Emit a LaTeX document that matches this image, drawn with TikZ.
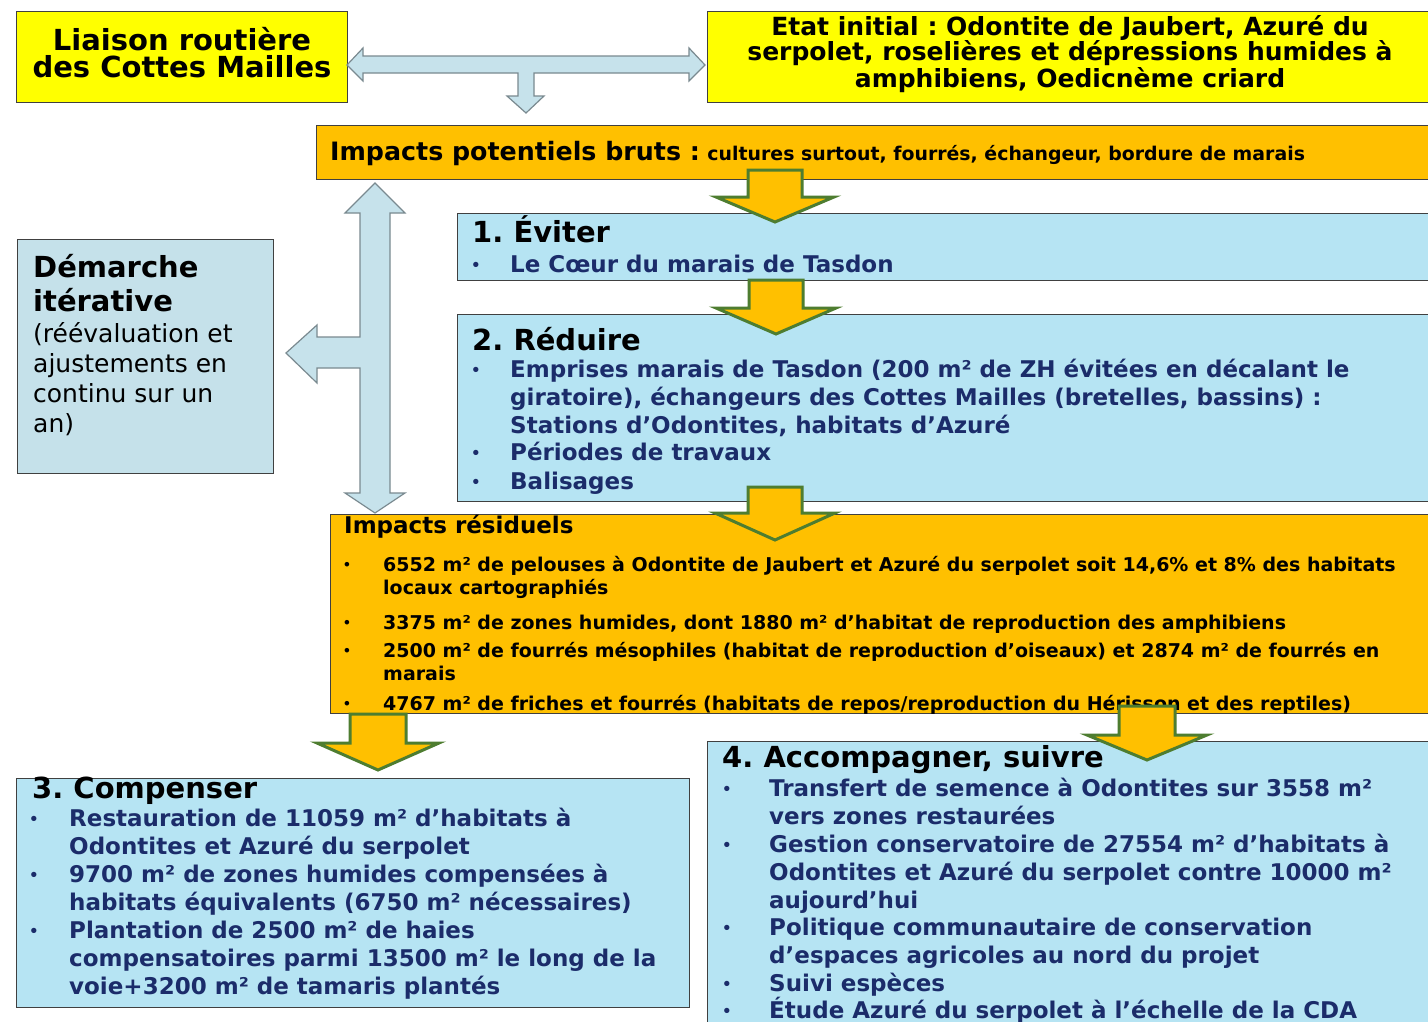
\documentclass[tikz,border=0pt]{standalone}
\usepackage{fontspec}
\setmainfont{DejaVu Sans}
\frenchspacing
\definecolor{yel}{HTML}{FFFF00}
\definecolor{org}{HTML}{FFC000}
\definecolor{bbox}{HTML}{B6E4F3}
\definecolor{dbox}{HTML}{C5E1EA}
\definecolor{abl}{HTML}{C6E2EB}
\definecolor{aedge}{HTML}{7A8A90}
\definecolor{navy}{HTML}{1B2C6A}
\definecolor{grn}{HTML}{4E7D30}
\definecolor{bgray}{HTML}{404040}
\newcommand\fatdown[6]{%
  \draw[grnarrow] (#1-#3,#2) -- (#1+#3,#2) -- (#1+#3,#5) -- (#1+#4,#5) -- (#1,#6) -- (#1-#4,#5) -- (#1-#3,#5) -- cycle;}
\begin{document}
\frenchspacing
\begin{tikzpicture}[x=1pt,y=-1pt,
  box/.style={draw=bgray, line width=1.4pt, inner sep=0pt, anchor=north west},
  txt/.style={inner sep=0pt, anchor=base west, align=left},
  ctr/.style={inner sep=0pt, anchor=base, align=center},
  bul/.style={inner sep=0pt, anchor=base, yshift=2pt},
  ttl/.style={font=\fontsize{29}{29}\selectfont\bfseries\frenchspacing, text=black},
  nv/.style={font=\fontsize{23}{28}\selectfont\bfseries\frenchspacing, text=navy},
  nvb/.style={font=\fontsize{15}{15}\selectfont\bfseries, text=navy},
  rs/.style={font=\fontsize{19}{23}\selectfont\bfseries\frenchspacing, text=black},
  rsb/.style={font=\fontsize{13}{13}\selectfont\bfseries, text=black},
  grnarrow/.style={draw=grn, fill=org, line width=3pt, line join=miter},
  bluearrow/.style={draw=aedge, fill=abl, line width=1.2pt, line join=miter}]
\useasboundingbox (0,0) rectangle (1428,1021);
\fill[white] (0,0) rectangle (1428,1021);

% boxes
\node[box, fill=yel, minimum width=331pt, minimum height=91pt] (A) at (16,11) {};
\node[box, fill=yel, minimum width=740pt, minimum height=91pt] (B) at (707,11) {};
\node[box, fill=org, minimum width=1130pt, minimum height=54pt] (C) at (316,125) {};
\node[box, fill=bbox, minimum width=990pt, minimum height=67pt] (E1) at (457,213) {};
\node[box, fill=bbox, minimum width=990pt, minimum height=187pt] (E2) at (457,314) {};
\node[box, fill=dbox, minimum width=256pt, minimum height=234pt] (D) at (17,239) {};
\node[box, fill=org, minimum width=1120pt, minimum height=199pt] (R) at (330,514) {};
\node[box, fill=bbox, minimum width=673pt, minimum height=229pt] (E3) at (16,778) {};
\node[box, fill=bbox, minimum width=740pt, minimum height=300pt] (E4) at (707,741) {};

% texts box A, B, C  (base anchor = baseline of the last line)
\node[ctr, font=\fontsize{29}{27.5}\selectfont\bfseries] (tA) at (182,77.5) {Liaison routière\\des Cottes Mailles};
\node[ctr, font=\fontsize{25}{25}\selectfont\bfseries\frenchspacing] (tB) at (1070,87) {Etat initial : Odontite de Jaubert, Azuré du\\serpolet, roselières et dépressions humides à\\amphibiens, Oedicnème criard};
\node[txt, font=\bfseries] (tC) at (330,160) {{\fontsize{25.3}{25}\selectfont Impacts potentiels bruts :}\hspace{4pt} {\fontsize{18.9}{20}\selectfont cultures surtout, fourrés, échangeur, bordure de marais}};

% Demarche
\node[txt, font=\fontsize{29}{34}\selectfont\bfseries] (tD1) at (33,311) {Démarche\\itérative};
\node[txt, font=\fontsize{25}{29.7}\selectfont] (tD2) at (33,432) {(réévaluation et\\ajustements en\\continu sur un\\an)};

% Eviter
\node[txt, ttl] (t1) at (472,242) {1. Éviter};
\node[bul, nvb] (b11) at (476,272) {•};
\node[txt, nv] (t11) at (510,272) {Le Cœur du marais de Tasdon};

% Reduire
\node[txt, ttl] (t2) at (472,350) {2. Réduire};
\node[bul, nvb] (b21) at (476,377) {•};
\node[txt, nv] (t21) at (510,433) {Emprises marais de Tasdon (200 m² de ZH évitées en décalant le\\giratoire), échangeurs des Cottes Mailles (bretelles, bassins) :\\Stations d’Odontites, habitats d’Azuré};
\node[bul, nvb] (b22) at (476,460) {•};
\node[txt, nv] (t22) at (510,460) {Périodes de travaux};
\node[bul, nvb] (b23) at (476,489) {•};
\node[txt, nv] (t23) at (510,489) {Balisages};

% Residuels
\node[txt, font=\fontsize{23}{23}\selectfont\bfseries] (tR) at (344,533) {Impacts résiduels};
\node[bul, rsb] (bR1) at (347,571) {•};
\node[txt, rs] (tR1) at (383,594) {6552 m² de pelouses à Odontite de Jaubert et Azuré du serpolet soit 14,6\% et 8\% des habitats\\locaux cartographiés};
\node[bul, rsb] (bR2) at (347,629) {•};
\node[txt, rs] (tR2) at (383,629) {3375 m² de zones humides, dont 1880 m² d’habitat de reproduction des amphibiens};
\node[bul, rsb] (bR3) at (347,657) {•};
\node[txt, rs] (tR3) at (383,680) {2500 m² de fourrés mésophiles (habitat de reproduction d’oiseaux) et 2874 m² de fourrés en\\marais};
\node[bul, rsb] (bR4) at (347,710) {•};
\node[txt, rs] (tR4) at (383,710) {4767 m² de friches et fourrés (habitats de repos/reproduction du Hérisson et des reptiles)};

% Compenser
\node[txt, ttl] (t3) at (32,798) {3. Compenser};
\node[bul, nvb] (b31) at (34,826) {•};
\node[txt, nv] (t31) at (69,854) {Restauration de 11059 m² d’habitats à\\Odontites et Azuré du serpolet};
\node[bul, nvb] (b32) at (34,882) {•};
\node[txt, nv] (t32) at (69,910) {9700 m² de zones humides compensées à\\habitats équivalents (6750 m² nécessaires)};
\node[bul, nvb] (b33) at (34,938) {•};
\node[txt, nv] (t33) at (69,994) {Plantation de 2500 m² de haies\\compensatoires parmi 13500 m² le long de la\\voie+3200 m² de tamaris plantés};

% Accompagner
\node[txt, ttl] (t4) at (722,767) {4. Accompagner, suivre};
\node[bul, nvb] (b41) at (727,796) {•};
\node[txt, nv] (t41) at (769,824) {Transfert de semence à Odontites sur 3558 m²\\vers zones restaurées};
\node[bul, nvb] (b42) at (727,852) {•};
\node[txt, nv] (t42) at (769,908) {Gestion conservatoire de 27554 m² d’habitats à\\Odontites et Azuré du serpolet contre 10000 m²\\aujourd’hui};
\node[bul, nvb] (b43) at (727,935) {•};
\node[txt, nv] (t43) at (769,963) {Politique communautaire de conservation\\d’espaces agricoles au nord du projet};
\node[bul, nvb] (b44) at (727,991) {•};
\node[txt, nv] (t44) at (769,991) {Suivi espèces};
\node[bul, nvb] (b45) at (727,1018) {•};
\node[txt, nv] (t45) at (769,1018) {Étude Azuré du serpolet à l’échelle de la CDA};

% blue arrows
\draw[bluearrow] (347,65) -- (363,48) -- (363,56) -- (689,56) -- (689,48) -- (705,65) -- (689,81) -- (689,73) -- (534,73) -- (534,96) -- (544,96) -- (526,113) -- (507,96) -- (518,96) -- (518,73) -- (363,73) -- (363,81) -- cycle;
\draw[bluearrow] (375,183) -- (405,213) -- (390,213) -- (390,493) -- (405,493) -- (375,513) -- (345,493) -- (360,493) -- (360,368) -- (317,368) -- (317,383) -- (286,353) -- (317,325) -- (317,337) -- (360,337) -- (360,213) -- (345,213) -- cycle;

% green arrows
\fatdown{775}{170}{27}{59}{197}{222}
\fatdown{776}{280}{27}{60}{308}{334}
\fatdown{775}{487}{27}{60}{513}{540}
\fatdown{378}{714}{28}{61}{743}{770}
\fatdown{1147}{706}{28}{60}{735}{760}
\end{tikzpicture}
\end{document}
